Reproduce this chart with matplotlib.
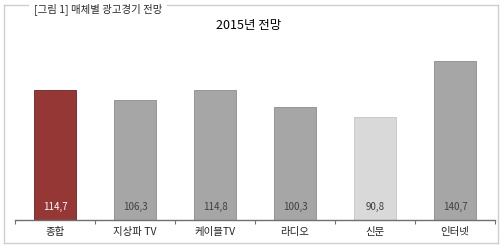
import numpy as np
import matplotlib
matplotlib.use("Agg")
import matplotlib.pyplot as plt
from matplotlib.lines import Line2D

plt.rcParams['font.family'] = ['Noto Sans CJK KR', 'DejaVu Sans']

# Data
categories = ["종합", "지상파 TV", "케이블TV", "라디오", "신문", "인터넷"]
values = [114.7, 106.3, 114.8, 100.3, 90.8, 140.7]
value_labels = ["114,7", "106,3", "114,8", "100,3", "90,8", "140,7"]
bar_colors = ["#953735", "#A6A6A6", "#A6A6A6", "#A6A6A6", "#D9D9D9", "#A6A6A6"]
edge_colors = ["#6E2220", "#8C8C8C", "#8C8C8C", "#8C8C8C", "#C4C4C4", "#8C8C8C"]
text_colors = ["white", "#404040", "#404040", "#404040", "#404040", "#404040"]

W, H = 500, 245
fig = plt.figure(figsize=(W / 100, H / 100), dpi=100)

# outer frame with a gap for the caption
frame_col = "#CFCFCF"
x0, x1, y0, y1 = 4 / W, 498 / W, 1 - 243 / H, 1 - 5 / H
for xs, ys in [([x0, x0], [y0, y1]), ([x1, x1], [y0, y1]), ([x0, x1], [y0, y0]),
               ([x0, 28 / W], [y1, y1]), ([167 / W, x1], [y1, y1])]:
    fig.add_artist(Line2D(xs, ys, color=frame_col, linewidth=1.0))

fig.text(34 / W, 1 - 9 / H, "[그림 1] 매체별 광고경기 전망", fontsize=7.5,
         color="#2A2A2A", ha="left", va="center", fontweight="medium")
fig.text(249 / W, 1 - 25 / H, "2015년 전망", fontsize=9, color="black",
         ha="center", va="center")

# plot area: axis line at y=220px, x from 15 to 495
ax = fig.add_axes([15 / W, 1 - 220 / H, 480 / W, 181 / H])
x = np.arange(len(categories))
ax.bar(x, values, width=0.525, color=bar_colors, edgecolor=edge_colors, linewidth=0.6)
ax.set_xlim(-0.5, len(categories) - 0.5)
ax.set_ylim(0, 160)

for i, (lab, c) in enumerate(zip(value_labels, text_colors)):
    ax.text(i, 11.5, lab, ha="center", va="center", fontsize=7, color=c)

for s in ["top", "right", "left"]:
    ax.spines[s].set_visible(False)
ax.spines["bottom"].set_color("#707070")
ax.spines["bottom"].set_linewidth(1.0)
ax.set_yticks([])
ax.set_xticks(x)
ax.set_xticklabels(categories, fontsize=7.5, color="#222222")
ax.tick_params(axis="x", which="major", length=0, pad=5)
ax.set_xticks(np.arange(-0.5, len(categories)), minor=True)
ax.tick_params(axis="x", which="minor", length=3, width=0.8, color="#707070", direction="out")

fig.savefig("out.png", dpi=100)
